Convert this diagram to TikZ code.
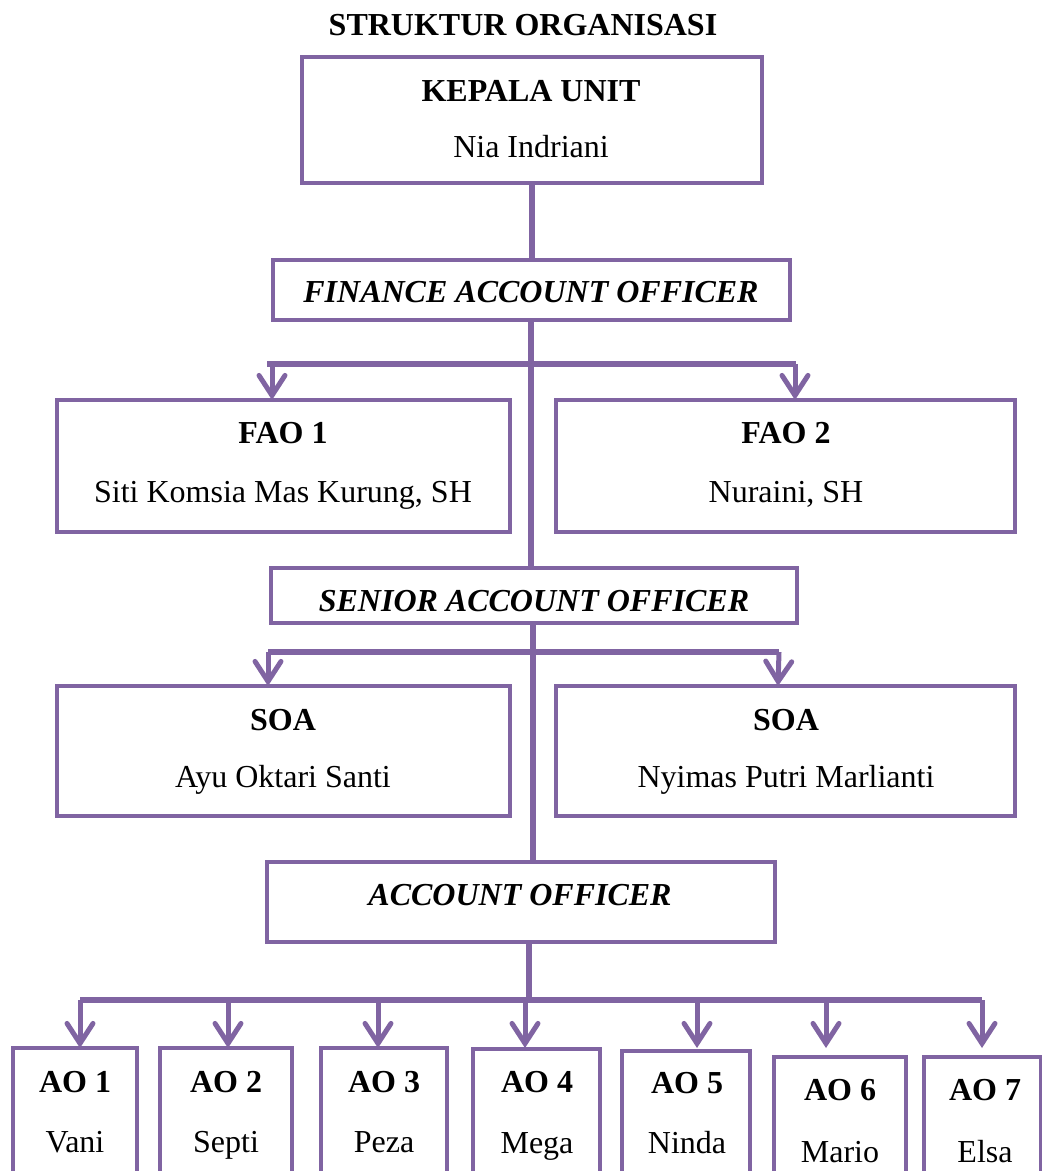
\documentclass[tikz,border=0pt]{standalone}
\usepackage{fontspec}
\setmainfont{Liberation Serif}
\usetikzlibrary{arrows.meta}
\definecolor{pur}{HTML}{8064A2}
\begin{document}
\begin{tikzpicture}[x=1pt,y=-1pt,
  box/.style={draw=pur, line width=4.5pt, fill=white, inner sep=0pt, rectangle},
  conn/.style={draw=pur, line width=6pt},
  arr/.style={draw=pur, line width=5pt, -{Straight Barb[length=20pt,width=26pt,line cap=round]}},
  ttl/.style={font=\fontsize{32}{38}\selectfont\bfseries, inner sep=0pt, anchor=base},
  nm/.style={font=\fontsize{32}{38}\selectfont, inner sep=0pt, anchor=base},
  itl/.style={font=\fontsize{32}{38}\selectfont\bfseries\itshape, inner sep=0pt, anchor=base}]
\useasboundingbox (0,0) rectangle (1042,1171);

\node[ttl] (title) at (523,35) {STRUKTUR ORGANISASI};

% boxes
\node[box, minimum width=460pt, minimum height=126pt] (ku) at (532,120) {};
\node[box, minimum width=517pt, minimum height=60pt] (fao) at (531.5,290) {};
\node[box, minimum width=453pt, minimum height=132pt] (fao1) at (283.5,466) {};
\node[box, minimum width=459pt, minimum height=132pt] (fao2) at (785.5,466) {};
\node[box, minimum width=526pt, minimum height=55pt] (sao) at (534,595.5) {};
\node[box, minimum width=453pt, minimum height=130pt] (soa1) at (283.5,751) {};
\node[box, minimum width=459pt, minimum height=130pt] (soa2) at (785.5,751) {};
\node[box, minimum width=508pt, minimum height=80pt] (ao) at (521,902) {};

\node[box, minimum width=124pt, minimum height=150pt] (ao1) at (75,1123) {};
\node[box, minimum width=132pt, minimum height=150pt] (ao2) at (226,1123) {};
\node[box, minimum width=126pt, minimum height=150pt] (ao3) at (384,1123) {};
\node[box, minimum width=127pt, minimum height=150pt] (ao4) at (536.5,1124) {};
\node[box, minimum width=128pt, minimum height=150pt] (ao5) at (686,1126) {};
\node[box, minimum width=132pt, minimum height=150pt] (ao6) at (840,1132) {};
\node[box, minimum width=117pt, minimum height=150pt] (ao7) at (982.5,1132) {};

% texts
\node[ttl] (tku) at (531,101) {KEPALA UNIT};
\node[nm] (nku) at (531,157) {Nia Indriani};
\node[itl] (tfao) at (531,302) {FINANCE ACCOUNT OFFICER};
\node[ttl] (tfao1) at (283,443) {FAO 1};
\node[nm] (nfao1) at (283,502) {Siti Komsia Mas Kurung, SH};
\node[ttl] (tfao2) at (786,443) {FAO 2};
\node[nm] (nfao2) at (786,502) {Nuraini, SH};
\node[itl] (tsao) at (534,611) {SENIOR ACCOUNT OFFICER};
\node[ttl] (tsoa1) at (283,730) {SOA};
\node[nm] (nsoa1) at (283,787) {Ayu Oktari Santi};
\node[ttl] (tsoa2) at (786,730) {SOA};
\node[nm] (nsoa2) at (786,787) {Nyimas Putri Marlianti};
\node[itl] (tao) at (520,905) {ACCOUNT OFFICER};

\node[ttl] (tao1) at (75,1092) {AO 1};
\node[nm] (nao1) at (75,1152) {Vani};
\node[ttl] (tao2) at (226,1092) {AO 2};
\node[nm] (nao2) at (226,1152) {Septi};
\node[ttl] (tao3) at (384,1092) {AO 3};
\node[nm] (nao3) at (384,1152) {Peza};
\node[ttl] (tao4) at (537,1092) {AO 4};
\node[nm] (nao4) at (537,1153) {Mega};
\node[ttl] (tao5) at (687,1093) {AO 5};
\node[nm] (nao5) at (687,1153) {Ninda};
\node[ttl] (tao6) at (840,1100) {AO 6};
\node[nm] (nao6) at (840,1162) {Mario};
\node[ttl] (tao7) at (985,1100) {AO 7};
\node[nm] (nao7) at (985,1162) {Elsa};

% coordinates
\coordinate (c1) at (531,364);
\coordinate (b1l) at (267,364);
\coordinate (b1r) at (796,364);
\coordinate (a1l) at (272,364);
\coordinate (a1r) at (795,364);
\coordinate (t1l) at (272,400);
\coordinate (t1r) at (795,400);

\coordinate (c2) at (533,652);
\coordinate (b2l) at (268,652);
\coordinate (b2r) at (779,652);
\coordinate (t2l) at (268,686);
\coordinate (t2r) at (778,686);

\coordinate (b3) at (529,1000);
\coordinate (b3l) at (80,1000);
\coordinate (b3r) at (982,1000);

% connectors
\draw[conn] (ku.south) -- (ku.south |- fao.north);
\draw[conn] (c1 |- fao.south) -- (c1 |- sao.north);
\draw[conn] (b1l) -- (b1r);
\draw[arr] (a1l) -- (t1l);
\draw[arr] (a1r) -- (t1r);
\draw[conn] (c2 |- sao.south) -- (c2 |- ao.north);
\draw[conn] (b2l) -- (b2r);
\draw[arr] (b2l) -- (t2l);
\draw[arr] (b2r) -- (t2r);
\draw[conn] (b3 |- ao.south) -- (b3);
\draw[conn] (b3l) -- (b3r);
\foreach \n/\x in {ao1/80, ao2/228, ao3/378, ao4/525, ao5/697, ao6/826, ao7/982}{
  \coordinate (s\n) at (\x,1000);
  \coordinate (e\n) at (\x,1048);
  \draw[arr] (s\n) -- (e\n);
}
\end{tikzpicture}
\end{document}
